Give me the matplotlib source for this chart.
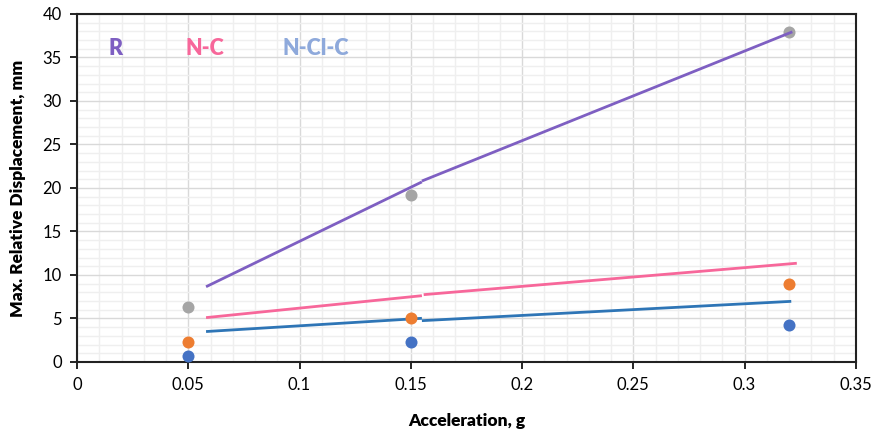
import numpy as np
import matplotlib.pyplot as plt
from matplotlib.ticker import MultipleLocator

plt.rcParams['font.family'] = ['Lato', 'DejaVu Sans']

# measured points
accel = [0.05, 0.15, 0.32]
disp_r = [6.35, 19.2, 37.95]
disp_nc = [2.35, 5.1, 9.0]
disp_ncic = [0.7, 2.25, 4.25]

# fitted trend lines, two segments each (break near 0.155 g)
fit_x1 = [0.058, 0.155]
fit_x2 = [0.155, 0.3215]
fit_r1 = [8.65, 20.7]
fit_r2 = [20.8, 37.95]
fit_nc_x2 = [0.1558, 0.3235]
fit_nc1 = [5.1, 7.62]
fit_nc2 = [7.74, 11.35]
fit_ncic_x2 = [0.155, 0.321]
fit_ncic1 = [3.5, 5.02]
fit_ncic2 = [4.75, 6.97]

series_labels = ['R', 'N-C', 'N-Cl-C']
label_x = [0.0175, 0.0575, 0.1075]

fig = plt.figure(figsize=(8.77, 4.33), dpi=100)
ax = fig.add_axes([0.0878, 0.164, 0.888, 0.8037])

ax.plot(fit_x1, fit_r1, color='#7E5FC2', lw=2, solid_capstyle='butt', zorder=3)
ax.plot(fit_x2, fit_r2, color='#7E5FC2', lw=2, solid_capstyle='butt', zorder=3)
ax.plot(fit_x1, fit_nc1, color='#F7679A', lw=2, solid_capstyle='butt', zorder=3)
ax.plot(fit_nc_x2, fit_nc2, color='#F7679A', lw=2, solid_capstyle='butt', zorder=3)
ax.plot(fit_x1, fit_ncic1, color='#2E75B6', lw=2, solid_capstyle='butt', zorder=3)
ax.plot(fit_ncic_x2, fit_ncic2, color='#2E75B6', lw=2, solid_capstyle='butt', zorder=3)

ax.scatter(accel, disp_r, s=75, color='#A5A5A5', zorder=2, linewidths=0)
ax.scatter(accel, disp_nc, s=75, color='#ED7D31', zorder=4, linewidths=0)
ax.scatter(accel, disp_ncic, s=75, color='#4472C4', zorder=4, linewidths=0)

label_colors = ['#7E5FC2', '#F7679A', '#8EA9DB']
for lx, txt, c in zip(label_x, series_labels, label_colors):
    ax.text(lx, 36.0, txt, color=c, fontsize=15.5, fontweight='heavy', ha='center', va='center')

ax.set_xlim(0, 0.35)
ax.set_ylim(0, 40)
ax.xaxis.set_major_locator(MultipleLocator(0.05))
ax.xaxis.set_minor_locator(MultipleLocator(0.01))
ax.yaxis.set_major_locator(MultipleLocator(5))
ax.yaxis.set_minor_locator(MultipleLocator(1))
ax.set_xticks(np.arange(0, 0.351, 0.05))
ax.set_xticklabels(['0', '0.05', '0.1', '0.15', '0.2', '0.25', '0.3', '0.35'])

ax.grid(which='major', color='#D9D9D9', lw=1)
ax.grid(which='minor', color='#EFEFEF', lw=1)
ax.set_axisbelow(True)
ax.tick_params(which='major', direction='out', length=5, width=1.2, labelsize=12, pad=6)
ax.tick_params(which='minor', length=0)
for sp in ax.spines.values():
    sp.set_color('#222222')
    sp.set_linewidth(1.5)

ax.set_xlabel('Acceleration, g', fontsize=12.5, fontweight='heavy', labelpad=14)
ax.set_ylabel('Max. Relative Displacement, mm', fontsize=12.5, fontweight='heavy', labelpad=12)

fig.savefig('out.png', dpi=100)
